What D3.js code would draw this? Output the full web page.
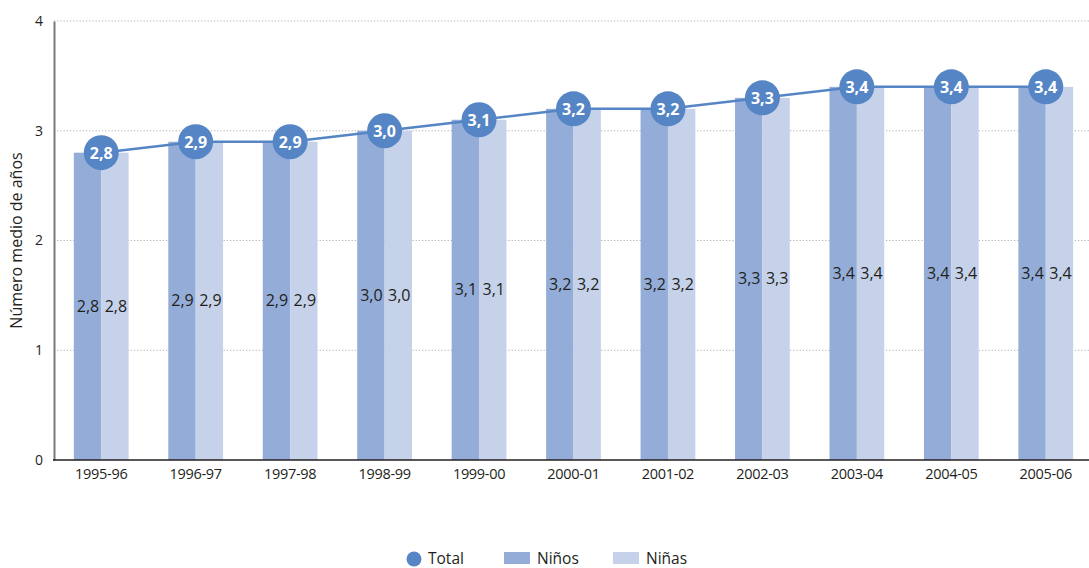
<!DOCTYPE html>
<html>
<head>
<meta charset="utf-8">
<script src="https://cdn.jsdelivr.net/npm/d3@7"></script>
<style>
  html, body { margin: 0; padding: 0; background: #fff; }
  svg { display: block; font-family: "Open Sans", "Noto Sans", sans-serif; }
</style>
</head>
<body>
<svg id="chart" width="1089" height="568"></svg>
<script>
// Número medio de años por curso escolar
const categories = ["1995-96","1996-97","1997-98","1998-99","1999-00","2000-01","2001-02","2002-03","2003-04","2004-05","2005-06"];
const ninos  = [2.8, 2.9, 2.9, 3.0, 3.1, 3.2, 3.2, 3.3, 3.4, 3.4, 3.4];
const ninas  = [2.8, 2.9, 2.9, 3.0, 3.1, 3.2, 3.2, 3.3, 3.4, 3.4, 3.4];
const total  = [2.8, 2.9, 2.9, 3.0, 3.1, 3.2, 3.2, 3.3, 3.4, 3.4, 3.4];
const yTicks = [0, 1, 2, 3, 4];
const yTitle = "Número medio de años";
const legendLabels = ["Total", "Niños", "Niñas"];

const colNinos = "#94add8";
const colNinas = "#c6d2ea";
const colTotal = "#5585c5";
const ink = "#231f20";

const fmt = v => v.toFixed(1).replace(".", ",");

const svg = d3.select("#chart");
const margin = { left: 54, right: -4, top: 21, bottom: 108 };
const W = 1089, H = 568;

const x = d3.scaleBand()
  .domain(categories)
  .range([margin.left, W - margin.right])
  .paddingInner(0.42)
  .paddingOuter(0.21);

const y = d3.scaleLinear().domain([0, 4]).range([H - margin.bottom, margin.top]);

// horizontal dotted gridlines
svg.append("g").selectAll("line")
  .data(yTicks.filter(d => d > 0))
  .join("line")
  .attr("x1", margin.left).attr("x2", W)
  .attr("y1", d => y(d)).attr("y2", d => y(d))
  .attr("stroke", "#b0b0b0").attr("stroke-width", 1)
  .attr("stroke-dasharray", "1.2,2");

const half = x.bandwidth() / 2;

// Niños bars
svg.append("g").selectAll("rect")
  .data(categories)
  .join("rect")
  .attr("x", d => x(d))
  .attr("width", half)
  .attr("y", (d, i) => y(ninos[i]))
  .attr("height", (d, i) => y(0) - y(ninos[i]))
  .attr("fill", colNinos);

// Niñas bars
svg.append("g").selectAll("rect")
  .data(categories)
  .join("rect")
  .attr("x", d => x(d) + half)
  .attr("width", half)
  .attr("y", (d, i) => y(ninas[i]))
  .attr("height", (d, i) => y(0) - y(ninas[i]))
  .attr("fill", colNinas);

// value labels at mid-height of each bar
const barLabels = svg.append("g").attr("font-size", 16).attr("fill", ink).attr("text-anchor", "middle");
barLabels.selectAll("text.n")
  .data(categories)
  .join("text")
  .attr("class", "n")
  .attr("x", d => x(d) + half / 2 + 0.5)
  .attr("y", (d, i) => y(ninos[i] / 2) + 5.5)
  .text((d, i) => fmt(ninos[i]));
barLabels.selectAll("text.a")
  .data(categories)
  .join("text")
  .attr("class", "a")
  .attr("x", d => x(d) + half * 1.5 + 1)
  .attr("y", (d, i) => y(ninas[i] / 2) + 5.5)
  .text((d, i) => fmt(ninas[i]));

// y axis
const yAxis = svg.append("g")
  .attr("transform", `translate(${margin.left},0)`)
  .call(d3.axisLeft(y).tickValues(yTicks).tickSize(0).tickPadding(11).tickFormat(d3.format("d")));
yAxis.select(".domain").attr("stroke", "#7a7a7a").attr("stroke-width", 2);
yAxis.selectAll("text").attr("font-size", 14).attr("fill", ink).attr("font-family", "'Open Sans', sans-serif");

// x axis
const xAxis = svg.append("g")
  .attr("transform", `translate(0,${y(0)})`)
  .call(d3.axisBottom(x).tickSize(0).tickPadding(9));
xAxis.select(".domain").attr("stroke", ink).attr("stroke-width", 1.5)
  .attr("d", `M${margin.left - 1},0H${W}`);
xAxis.selectAll("text").attr("font-size", 14.5).attr("fill", ink).attr("font-family", "'Open Sans', sans-serif")
  .attr("letter-spacing", -0.3);

// y axis title
svg.append("text")
  .attr("transform", `translate(22,${(y(0) + y(4)) / 2}) rotate(-90)`)
  .attr("text-anchor", "middle")
  .attr("font-size", 16)
  .attr("fill", ink)
  .text(yTitle);

// Total line with labelled markers
const cx = d => x(d) + half;
const line = d3.line().x(d => cx(d)).y((d, i) => y(total[i]));
svg.append("path")
  .datum(categories)
  .attr("d", line)
  .attr("fill", "none")
  .attr("stroke", colTotal)
  .attr("stroke-width", 2.5);

const dots = svg.append("g");
dots.selectAll("circle")
  .data(categories)
  .join("circle")
  .attr("cx", d => cx(d))
  .attr("cy", (d, i) => y(total[i]))
  .attr("r", 17.5)
  .attr("fill", colTotal);
dots.selectAll("text")
  .data(categories)
  .join("text")
  .attr("x", d => cx(d))
  .attr("y", (d, i) => y(total[i]) + 6)
  .attr("text-anchor", "middle")
  .attr("font-size", 16)
  .attr("font-weight", "bold")
  .attr("fill", "#fff")
  .text((d, i) => fmt(total[i]));

// legend
const lg = svg.append("g").attr("font-size", 15.5).attr("fill", ink);
lg.append("circle").attr("cx", 414).attr("cy", 559).attr("r", 7.5).attr("fill", colTotal);
lg.append("text").attr("x", 428).attr("y", 564).text(legendLabels[0]);
lg.append("rect").attr("x", 504).attr("y", 552).attr("width", 26).attr("height", 12).attr("fill", colNinos);
lg.append("text").attr("x", 537).attr("y", 564).text(legendLabels[1]);
lg.append("rect").attr("x", 613).attr("y", 552).attr("width", 26).attr("height", 12).attr("fill", colNinas);
lg.append("text").attr("x", 646).attr("y", 564).text(legendLabels[2]);
</script>
</body>
</html>
